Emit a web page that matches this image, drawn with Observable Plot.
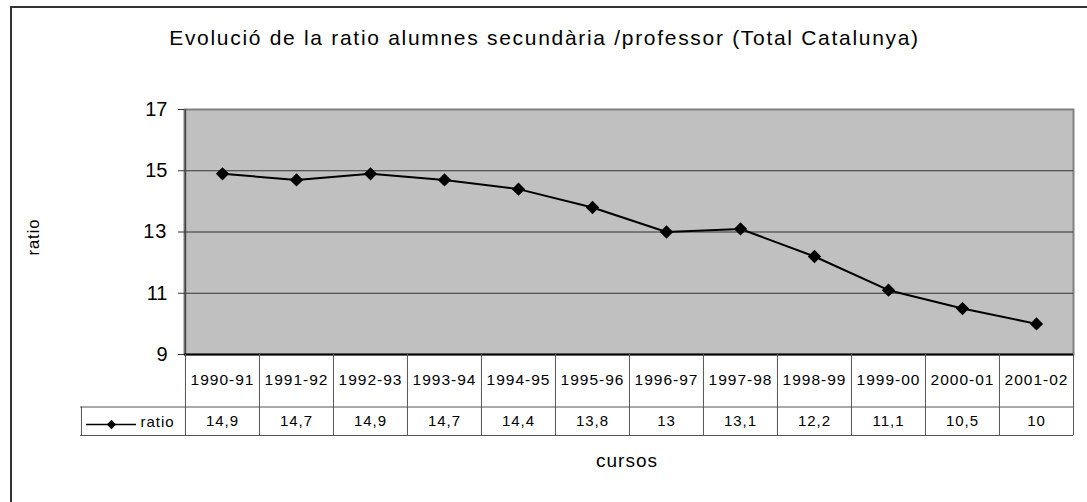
<!DOCTYPE html>
<html>
<head>
<meta charset="utf-8">
<script src="https://cdn.jsdelivr.net/npm/d3@7"></script>
<script src="https://cdn.jsdelivr.net/npm/@observablehq/plot@0.6"></script>
<style>
  html, body { margin: 0; padding: 0; background: #fff; overflow: hidden; }
  #wrap { position: relative; width: 1087px; height: 502px; overflow: hidden; }
  #border { position: absolute; left: 10px; top: 6px; width: 1100px; height: 520px; border: 2px solid #333; box-sizing: border-box; }
  #chart { position: absolute; left: 0; top: 0; }
</style>
</head>
<body>
<div id="wrap"><div id="border"></div><div id="chart"></div></div>
<script>
const title = "Evolució de la ratio alumnes secundària /professor (Total Catalunya)";
const cursos = ["1990-91","1991-92","1992-93","1993-94","1994-95","1995-96","1996-97","1997-98","1998-99","1999-00","2000-01","2001-02"];
const ratio = [14.9, 14.7, 14.9, 14.7, 14.4, 13.8, 13, 13.1, 12.2, 11.1, 10.5, 10];
const yTicks = [9, 11, 13, 15, 17];
const gridValues = [11, 13, 15];
const seriesName = "ratio";
const yLabel = "ratio";
const xLabel = "cursos";

const data = cursos.map((c, i) => ({curso: c, ratio: ratio[i], label: String(ratio[i]).replace(".", ",")}));

const W = 1087, H = 502;
const mL = 184, mR = 14, mT = 109, mB = 148;
const step = (W - mL - mR) / cursos.length;
const row1 = 52.5, row2 = 81;
const font = "Arial, 'Liberation Sans', sans-serif";

const yAxisMark = Plot.axisY
  ? [Plot.axisY({ticks: yTicks, tickSize: 6, tickPadding: 11, fontSize: 20, label: null, stroke: "#333", fill: "#000"})]
  : [];

const plot = Plot.plot({
  width: W, height: H,
  marginLeft: mL, marginRight: mR, marginTop: mT, marginBottom: mB,
  style: {fontFamily: font, fontSize: "20px", color: "#000", background: "transparent"},
  x: {type: "point", domain: cursos, padding: 0.5, axis: null},
  y: Plot.axisY ? {domain: [9, 17], axis: null} : {domain: [9, 17], ticks: yTicks, tickSize: 6, tickPadding: 11, label: null},
  marks: [
    Plot.frame({fill: "#c0c0c0", stroke: "#808080", strokeWidth: 2}),
    Plot.ruleY(gridValues, {stroke: "#333", strokeWidth: 1}),
    Plot.ruleX([cursos[0]], {x: d => d, dx: -step / 2, stroke: "#444", strokeWidth: 1.5}),
    Plot.ruleY([9], {stroke: "#000", strokeWidth: 2}),
    ...yAxisMark,
    // table vertical lines
    Plot.ruleX(cursos, {x: d => d, y1: 9, y2: 9, insetBottom: -row2, dx: -step / 2, stroke: "#555"}),
    Plot.ruleX([cursos[cursos.length - 1]], {x: d => d, y1: 9, y2: 9, insetBottom: -row2, dx: step / 2, stroke: "#555"}),
    Plot.ruleX([cursos[0]], {x: d => d, y1: 9, y2: 9, insetTop: row1, insetBottom: -row2, dx: -step / 2 - 104, stroke: "#555"}),
    // table horizontal lines
    Plot.ruleY([9], {dy: row1, insetLeft: -104, stroke: "#555"}),
    Plot.ruleY([9], {dy: row2, insetLeft: -104, stroke: "#555"}),
    // legend key
    Plot.ruleY([9], {dy: 70, insetLeft: -98, insetRight: (W - mL - mR) + 48, stroke: "#000", strokeWidth: 1.5}),
    Plot.dot([cursos[0]], {x: d => d, y: () => 9, dx: -(mL + step / 2 - 110), dy: 70, symbol: "diamond2", r: 4.2, fill: "#000", stroke: "none"}),
    Plot.text([seriesName], {frameAnchor: "bottom-left", lineAnchor: "middle", dx: -44, dy: 68, textAnchor: "start", fontSize: 15, fill: "#000"}),
    // table text
    Plot.text(data, {x: "curso", y: () => 9, text: "curso", lineAnchor: "middle", dy: 26, fontSize: 15.5, fill: "#000"}),
    Plot.text(data, {x: "curso", y: () => 9, text: "label", lineAnchor: "middle", dy: 67, fontSize: 15, fill: "#000"}),
    // series
    Plot.line(data, {x: "curso", y: "ratio", stroke: "#000", strokeWidth: 2}),
    Plot.dot(data, {x: "curso", y: "ratio", symbol: "diamond2", r: 6, fill: "#000", stroke: "none"}),
    // titles
    Plot.text([title], {frameAnchor: "top-left", lineAnchor: "middle", dx: 360, dy: -71.5, textAnchor: "middle", fontSize: 21, fill: "#000"}),
    Plot.text([yLabel], {frameAnchor: "left", lineAnchor: "middle", textAnchor: "middle", dx: -151, dy: 5, rotate: -90, fontSize: 16.5, fill: "#000"}),
    Plot.text([xLabel], {frameAnchor: "bottom", lineAnchor: "middle", textAnchor: "middle", dx: -2, dy: 106.5, fontSize: 19, fill: "#000"})
  ]
});

// the original rendering uses wider character spacing
const spacing = new Map([[title, "1.7px"], [xLabel, "1px"], [seriesName, "1px"]]);
d3.select(plot).selectAll("text").each(function() {
  const t = this.textContent;
  if (cursos.includes(t) || data.some(d => d.label === t)) this.style.letterSpacing = "1px";
  else if (spacing.has(t)) this.style.letterSpacing = spacing.get(t);
});

document.getElementById("chart").appendChild(plot);
</script>
</body>
</html>
